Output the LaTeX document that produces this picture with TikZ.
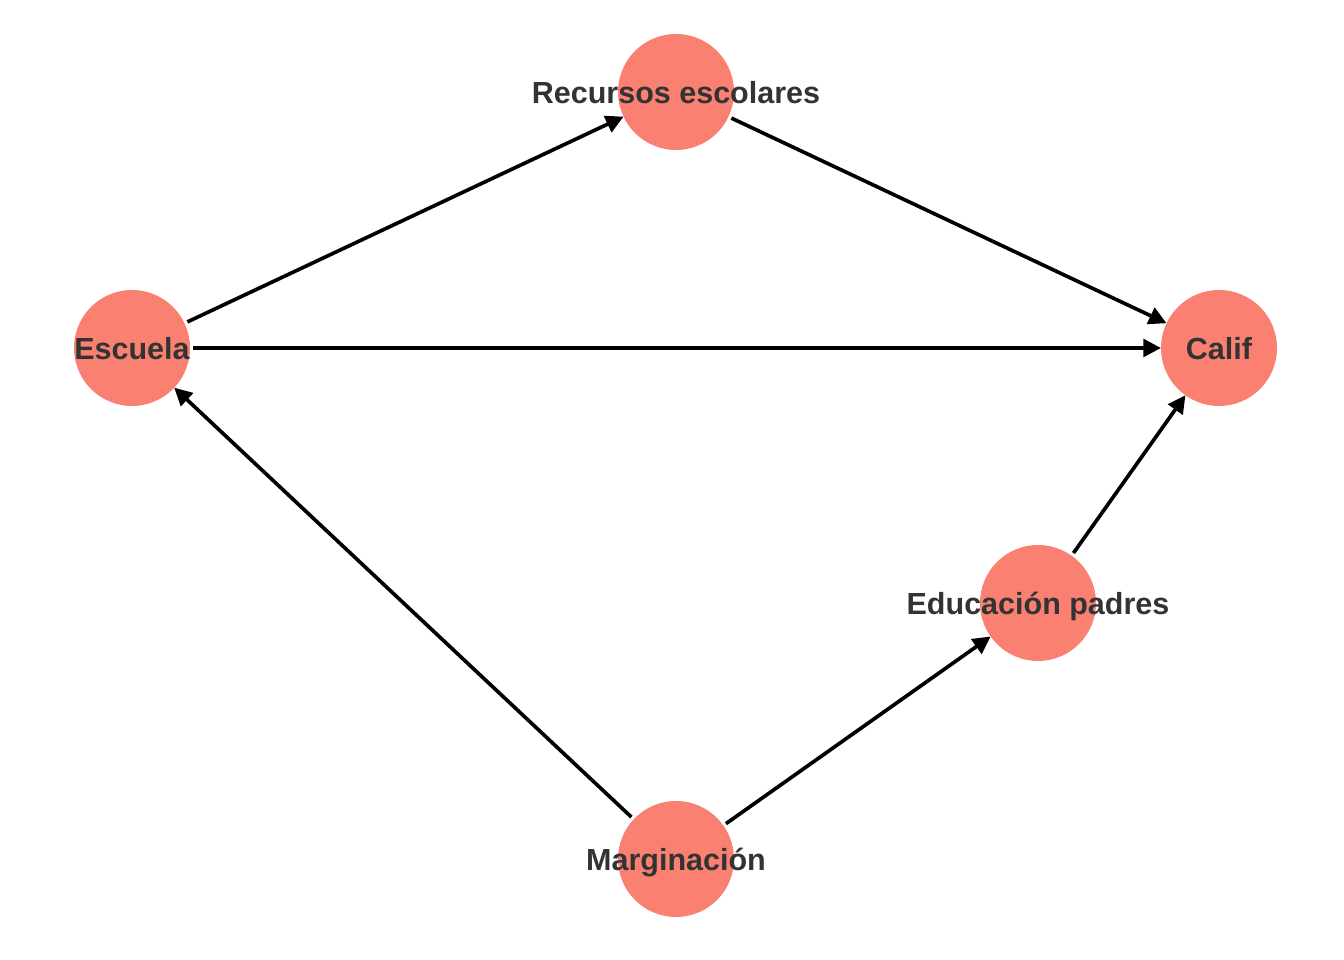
\documentclass[tikz,border=0pt]{standalone}
\usepackage{fontspec}
\setmainfont{Liberation Sans}
\usetikzlibrary{arrows.meta}
\definecolor{salmon}{HTML}{FA8072}
\definecolor{txtgray}{HTML}{333333}
\begin{document}
\begin{tikzpicture}[>={Triangle[length=0.44cm,width=0.44cm]}, line join=round,
	font=\fontsize{21.7}{26}\selectfont\bfseries,
	var/.style={circle, fill=salmon, minimum size=2.9cm, inner sep=0pt, outer sep=0pt},
	varlabel/.style={text=txtgray, text height=15.7pt, text depth=0pt},
	edge/.style={->, line width=2.6pt, shorten <=0.08cm}]
			\useasboundingbox (0,0) rectangle (33.6,24);
			\node[var, label={[varlabel]center:Recursos escolares}] (R) at (16.9,21.7) {};
			\node[var, label={[varlabel]center:Escuela}] (E) at (3.3,15.3) {};
			\node[var, label={[varlabel]center:Calif}] (C) at (30.475,15.3) {};
			\node[var, label={[varlabel]center:Educación padres}] (P) at (25.95,8.925) {};
			\node[var, label={[varlabel]center:Marginación}] (M) at (16.9,2.525) {};
			\foreach \a/\b in {E/R,R/C,E/C,M/E,M/P,P/C}
			\draw[edge] (\a)--(\b);
	\end{tikzpicture}
\end{document}
